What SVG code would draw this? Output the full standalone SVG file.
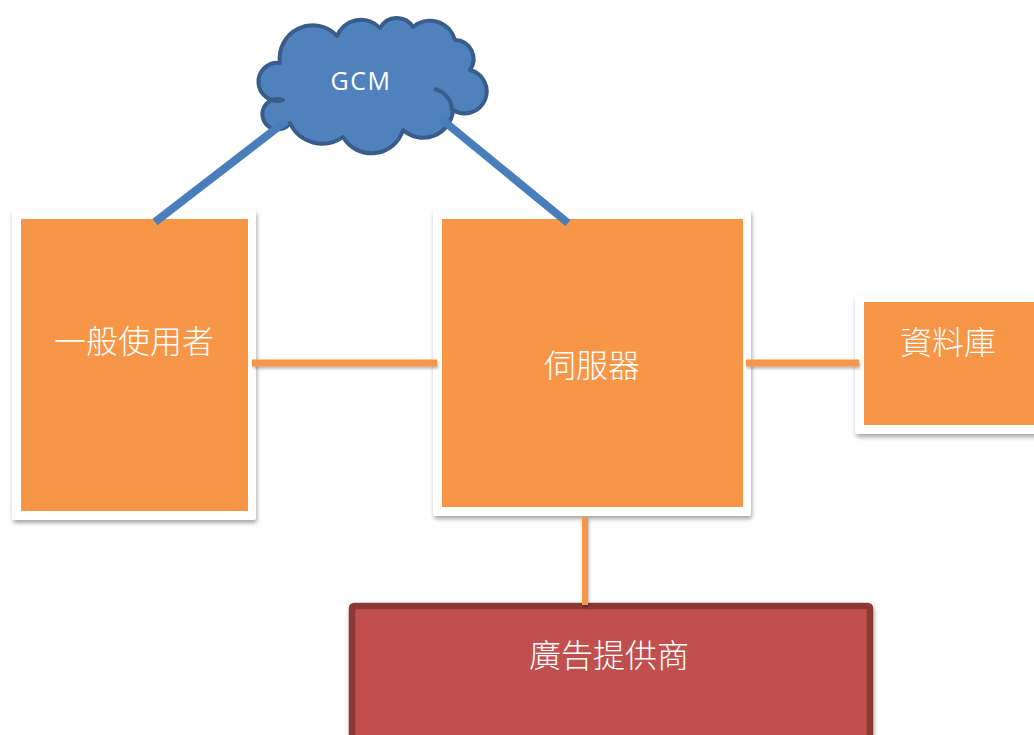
<svg xmlns="http://www.w3.org/2000/svg" width="1034" height="735" viewBox="0 0 1034 735">
<defs>
<filter id="sh" x="-10%" y="-10%" width="120%" height="130%">
<feDropShadow dx="1" dy="3" stdDeviation="2" flood-color="#000" flood-opacity="0.35"/>
</filter>
<filter id="lsh" filterUnits="userSpaceOnUse" x="0" y="0" width="1034" height="735">
<feDropShadow dx="1" dy="2" stdDeviation="1.5" flood-color="#000" flood-opacity="0.3"/>
</filter>
</defs>
<style>
.frame{fill:#FFFFFF;filter:url(#sh)}
.box{fill:#F79646}
.lbl{font-family:"Noto Sans CJK TC","Noto Sans CJK SC",sans-serif;font-size:32px;font-weight:300;fill:#FFFFFF;text-anchor:middle}
.blue{stroke:#4A7EBB;stroke-width:8;fill:none}
.orange{stroke:#F79646;stroke-width:7;fill:none;filter:url(#lsh)}
</style>
<rect width="1034" height="735" fill="#FFFFFF"/>

<g id="gcm">
<path d="M283,100 A19,19 0 1 1 280,63 A33,33 0 0 1 337,36 A26,26 0 0 1 380,28 A19,19 0 0 1 413,27 A26,26 0 0 1 455,40 A19,19 0 0 1 470,70 A22,22 0 1 1 453,110 A30,30 0 0 1 403,130 A33,33 0 0 1 343,137 A35.5,35.5 0 0 1 290,123 A15.2,15.2 0 1 1 283,100 Z" fill="#4F81BD" stroke="#385D8A" stroke-width="4" stroke-linejoin="round"/>
<path d="M434,89 A22,22 0 0 1 452,111" fill="none" stroke="#385D8A" stroke-width="4"/>
<text x="361" y="90" font-family="'Open Sans','Liberation Sans',sans-serif" font-size="25" letter-spacing="1.5" fill="#FFFFFF" text-anchor="middle">GCM</text>
</g>

<g id="user">
<rect class="frame" x="12" y="210" width="244" height="310" rx="3"/>
<rect class="box" x="21" y="219" width="227" height="292"/>
<text class="lbl" x="134" y="353">一般使用者</text>
</g>

<g id="server">
<rect class="frame" x="433" y="210" width="318" height="306" rx="3"/>
<rect class="box" x="442" y="219" width="301" height="288"/>
<text class="lbl" x="592" y="377">伺服器</text>
</g>

<g id="database">
<rect class="frame" x="855" y="295" width="190" height="139" rx="3"/>
<rect class="box" x="864" y="302" width="180" height="123"/>
<text class="lbl" x="948" y="354">資料庫</text>
</g>

<g id="adprovider">
<rect x="352" y="606" width="518" height="140" rx="2" fill="#C0504D" stroke="#8C3836" stroke-width="6.5" filter="url(#sh)"/>
<text class="lbl" x="609" y="667">廣告提供商</text>
</g>

<g id="connectors">
<line class="blue" x1="155" y1="222" x2="286" y2="121"/>
<line class="blue" x1="440" y1="118" x2="568" y2="223"/>
<line class="orange" x1="252" y1="363" x2="437" y2="363"/>
<line class="orange" x1="746" y1="363" x2="859" y2="363"/>
<line class="orange" x1="585" y1="517" x2="585" y2="605" style="stroke-width:6"/>
</g>
</svg>
